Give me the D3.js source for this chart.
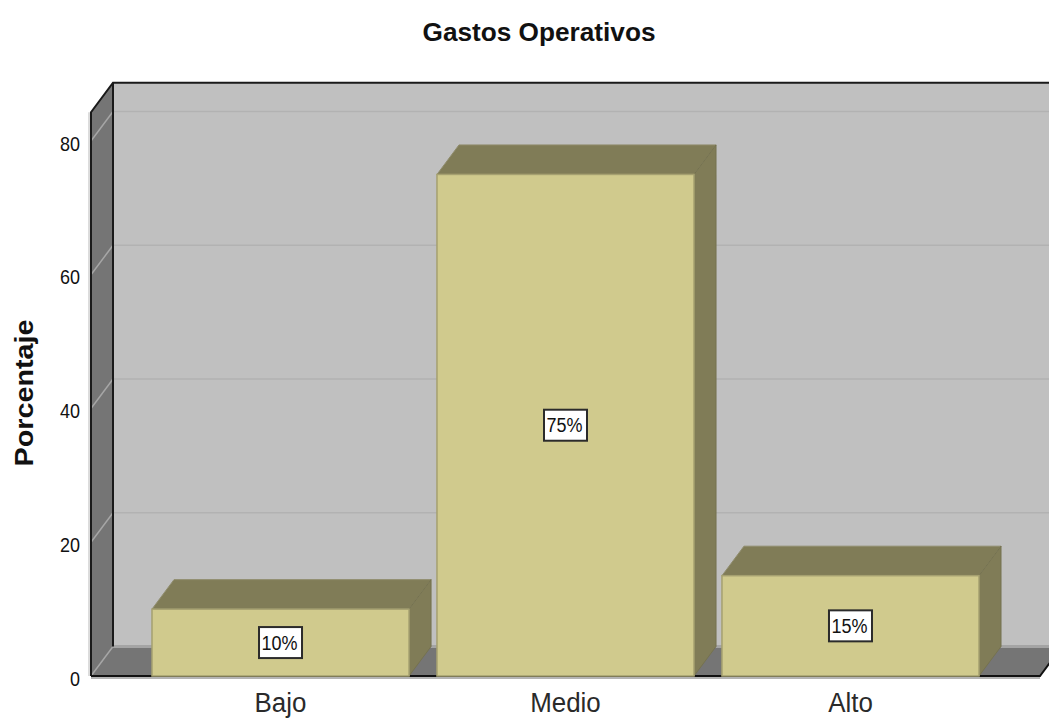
<!DOCTYPE html>
<html>
<head>
<meta charset="utf-8">
<script src="https://cdn.jsdelivr.net/npm/d3@7/dist/d3.min.js"></script>
<style>
html, body { margin: 0; padding: 0; background: #fff; overflow: hidden; }
text { font-family: "Liberation Sans", Arial, sans-serif; fill: #111; }
</style>
</head>
<body>
<script>
const categories = ["Bajo", "Medio", "Alto"];
const porcentajes = [10, 75, 15];
const etiquetas = ["10%", "75%", "15%"];
const ticks = [0, 20, 40, 60, 80];
const yMax = 84.3;

const width = 1049, height = 718;
const left = 91, right = 1040, y0 = 676;
const dx = 22, dy = -29.5;   // profundidad 3D

const svg = d3.select("body").append("svg").attr("width", width).attr("height", height);

const x = d3.scaleBand().domain(categories).range([left, right]).paddingInner(0.098).paddingOuter(0.214);
const y = d3.scaleLinear().domain([0, 80]).range([y0, 141]);
const poly = pts => pts.map(p => p.join(",")).join(" ");

// pared del fondo
const yTop = y(yMax);
svg.append("polygon")
  .attr("points", poly([[left + dx, yTop + dy], [width + 5, yTop + dy], [width + 5, y0 + dy], [left + dx, y0 + dy]]))
  .attr("fill", "#c0c0c0");

// pared izquierda y piso
svg.append("polygon")
  .attr("points", poly([[left, yTop], [left + dx, yTop + dy], [left + dx, y0 + dy], [left, y0]]))
  .attr("fill", "#757575");
svg.append("polygon")
  .attr("points", poly([[left, y0], [left + dx, y0 + dy], [right + dx, y0 + dy], [right, y0]]))
  .attr("fill", "#757575");

// rejilla
const grid = svg.append("g");
ticks.forEach(t => {
  grid.append("line")
    .attr("x1", left + dx).attr("x2", width + 5)
    .attr("y1", y(t) + dy).attr("y2", y(t) + dy)
    .attr("stroke", t == 0 ? "#a4a4a4" : "#b2b2b2").attr("stroke-width", t == 0 ? 3 : 1.5);
  grid.append("line")
    .attr("x1", left).attr("x2", left + dx)
    .attr("y1", y(t)).attr("y2", y(t) + dy)
    .attr("stroke", "#a6a6a6").attr("stroke-width", 1.5);
});

// contorno
svg.append("line").attr("x1", left - 2).attr("x2", left - 2).attr("y1", yTop).attr("y2", y0)
  .attr("stroke", "#d0d0d0").attr("stroke-width", 1.5);
svg.append("path")
  .attr("d", `M${left},${y0}V${yTop}L${left + dx},${yTop + dy}H${width + 5}M${left + dx},${yTop + dy}V${y0 + dy}`)
  .attr("fill", "none").attr("stroke", "#1a1a1a").attr("stroke-width", 2);
svg.append("line").attr("x1", left).attr("x2", right).attr("y1", y0 + 2).attr("y2", y0 + 2)
  .attr("stroke", "#b4b4b4").attr("stroke-width", 2);
svg.append("path")
  .attr("d", `M${left},${y0}H${right}L${right + dx},${y0 + dy}`)
  .attr("fill", "none").attr("stroke", "#111").attr("stroke-width", 2);

// barras
const bars = svg.selectAll("g.barra").data(categories).enter().append("g").attr("class", "barra");
bars.append("polygon")
  .attr("points", (c, i) => {
    const a = x(c), b = a + x.bandwidth(), t = y(porcentajes[i]);
    return poly([[a, t], [a + dx, t + dy], [b + dx, t + dy], [b, t]]);
  })
  .attr("fill", "#807c57").attr("stroke", "#8f8c6c").attr("stroke-width", 1);
bars.append("polygon")
  .attr("points", (c, i) => {
    const b = x(c) + x.bandwidth(), t = y(porcentajes[i]);
    return poly([[b, t], [b + dx, t + dy], [b + dx, y0 + dy], [b, y0]]);
  })
  .attr("fill", "#807c57").attr("stroke", "#757250").attr("stroke-width", 1);
bars.append("rect")
  .attr("x", c => x(c))
  .attr("y", (c, i) => y(porcentajes[i]))
  .attr("width", x.bandwidth())
  .attr("height", (c, i) => y0 - y(porcentajes[i]))
  .attr("fill", "#d0ca8d").attr("stroke", "#a5a070").attr("stroke-width", 1.5);

// etiquetas de datos
const boxW = 43, boxH = 31;
bars.append("rect")
  .attr("x", c => x(c) + x.bandwidth() / 2 - boxW / 2)
  .attr("y", (c, i) => y(porcentajes[i] / 2) - boxH / 2)
  .attr("width", boxW).attr("height", boxH)
  .attr("fill", "#fff").attr("stroke", "#2b2b2b").attr("stroke-width", 2);
bars.append("text")
  .attr("x", c => x(c) + x.bandwidth() / 2 - 1)
  .attr("y", (c, i) => y(porcentajes[i] / 2) + 7)
  .attr("text-anchor", "middle").attr("font-size", 20)
  .attr("textLength", 36).attr("lengthAdjust", "spacingAndGlyphs")
  .text((c, i) => etiquetas[i]);

// eje y
svg.selectAll("text.tick").data(ticks).enter().append("text")
  .attr("class", "tick")
  .attr("x", 80).attr("y", t => y(t) + 9.5)
  .attr("text-anchor", "end").attr("font-size", 21)
  .attr("textLength", t => t == 0 ? 10 : 20).attr("lengthAdjust", "spacingAndGlyphs")
  .text(t => t);

// eje x
svg.selectAll("text.cat").data(categories).enter().append("text")
  .attr("class", "cat")
  .attr("transform", c => `translate(${x(c) + x.bandwidth() / 2},712) scale(0.96,1)`)
  .attr("text-anchor", "middle").attr("font-size", 27)
  .style("fill", "#2a2a2a")
  .text(c => c);

svg.append("text")
  .attr("x", 539).attr("y", 41)
  .attr("text-anchor", "middle").attr("font-size", 26).attr("font-weight", "bold")
  .attr("textLength", 233).attr("lengthAdjust", "spacingAndGlyphs")
  .text("Gastos Operativos");

svg.append("text")
  .attr("transform", "translate(33,393) rotate(-90)")
  .attr("text-anchor", "middle").attr("font-size", 25).attr("font-weight", "bold")
  .attr("textLength", 147).attr("lengthAdjust", "spacingAndGlyphs")
  .text("Porcentaje");
</script>
</body>
</html>
